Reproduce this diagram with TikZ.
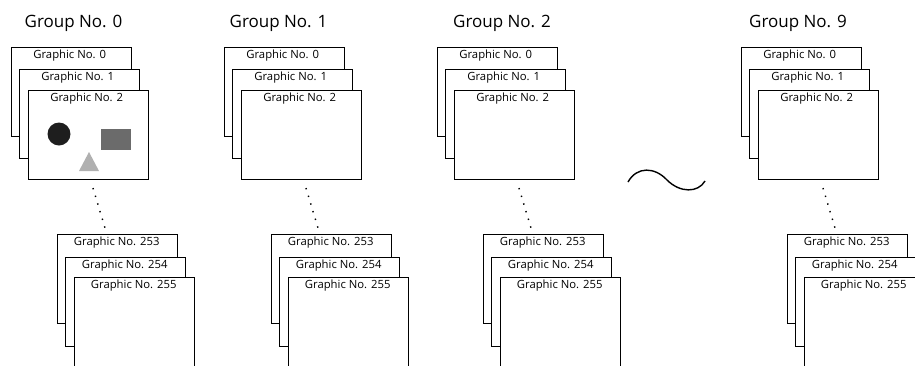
\documentclass[tikz,border=0pt]{standalone}
\usepackage{fontspec}
\setmainfont{Open Sans}
\usetikzlibrary{calc}
\definecolor{shapeblack}{HTML}{1E1E1E}
\definecolor{shapegray}{HTML}{6B6B6B}
\definecolor{shapelight}{HTML}{B0B0B0}
\tikzset{
  gbox/.style={draw=black, fill=white, line width=1.4pt, anchor=north west,
    minimum width=120pt, minimum height=89pt, inner sep=0pt},
  gtext/.style={anchor=base, inner sep=0pt, font=\fontsize{11.3}{13}\selectfont},
  grouptext/.style={anchor=base, inner sep=0pt, font=\fontsize{17}{20}\selectfont},
  dotline/.style={line width=1.4pt, dash pattern=on 1.4pt off 6.6pt, line cap=butt},
  wave/.style={line width=1.4pt}
}
\begin{document}
\begin{tikzpicture}[x=1pt, y=-1pt]
\useasboundingbox (0,0) rectangle (915,365);
\foreach \g/\X/\L/\B in {0/11/73.5/57, 1/224/278.5/271, 2/437/502/483, 9/741/798/787}{
  \node[grouptext] (grp\g) at (\L,27) {Group No. \g};
  % top stack
  \node[gbox] (g\g t0) at (\X,47) {};
  \node[gtext] (g\g t0l) at ([xshift=-2pt,yshift=-11.5pt]g\g t0.north) {Graphic No. 0};
  \node[gbox] (g\g t1) at (\X+8,69) {};
  \node[gtext] (g\g t1l) at ([xshift=-2pt,yshift=-11.5pt]g\g t1.north) {Graphic No. 1};
  \node[gbox] (g\g t2) at (\X+17,90) {};
  \node[gtext] (g\g t2l) at ([xshift=-2pt,yshift=-11.5pt]g\g t2.north) {Graphic No. 2};
  % dotted connector
  \coordinate (g\g d1) at (\X+82,188);
  \coordinate (g\g d2) at (\X+94,228);
  \draw[dotline] (g\g d1) -- (g\g d2);
  % bottom stack
  \node[gbox] (g\g b0) at (\B,234) {};
  \node[gtext] (g\g b0l) at ([xshift=-1pt,yshift=-11.5pt]g\g b0.north) {Graphic No. 253};
  \node[gbox] (g\g b1) at (\B+8,257) {};
  \node[gtext] (g\g b1l) at ([xshift=-1pt,yshift=-11.5pt]g\g b1.north) {Graphic No. 254};
  \node[gbox] (g\g b2) at (\B+17,277) {};
  \node[gtext] (g\g b2l) at ([xshift=-1pt,yshift=-11.5pt]g\g b2.north) {Graphic No. 255};
}
% shapes inside Graphic No. 2 of group 0
\fill[shapeblack] (59,134) circle (11.5);
\fill[shapegray] (101,129) rectangle (131,150);
\fill[shapelight] (79,171) -- (99,171) -- (89,152) -- cycle;
% tilde between group 2 and group 9
\coordinate (w1) at (628,182);
\coordinate (w2) at (667,180);
\coordinate (w3) at (705,181);
\draw[wave] (w1) .. controls (637,166) and (655,167) .. (w2)
             .. controls (680,193) and (698,193) .. (w3);
\end{tikzpicture}
\end{document}
